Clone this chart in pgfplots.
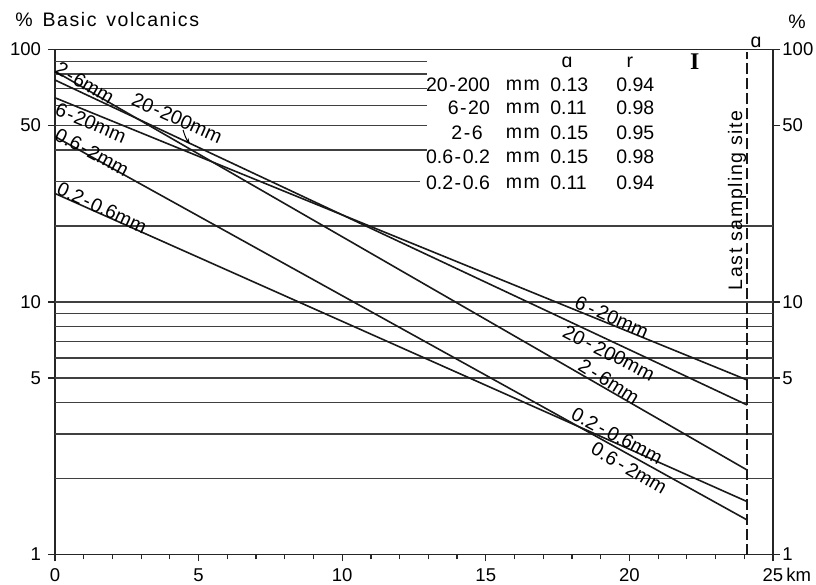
\documentclass[border=0pt]{standalone}
\usepackage{pgfplots}
\pgfplotsset{compat=1.18}
\usepackage{fontspec}
\setmainfont{Liberation Sans}
\newfontfamily\spaced[LetterSpace=8]{Liberation Sans}
\newfontfamily\romanI{Liberation Serif}
\usetikzlibrary{arrows.meta}
\tikzset{
  myGrid/.style={line width=0.55bp, black!75},
  myLine/.style={line width=0.8bp, black!90, mark=none},
}
\newcommand{\hy}{\kern0.08em-\kern0.08em}
\newcommand{\tfont}{\fontsize{9.3}{10}\selectfont}
\begin{document}
\begin{tikzpicture}[font=\fontsize{9.8}{11}\selectfont]
\begin{semilogyaxis}[width=359bp, height=252.5bp, scale only axis,
    xmin=0, xmax=25, ymin=1, ymax=100, clip=false,
    tick align=outside, yminorticks=false,
    tick label style={font=\tfont},
    ytick={1,5,10,50,100}, yticklabels={1,5,10,50,100},
    major tick length=3.5bp, minor tick length=2.5bp,
    every tick/.style={black!85, line width=0.6bp},
    axis line style={line width=0.7bp, black!85},
  xtick={0,5,10,15,20,25},
  xticklabels={0,5,10,15,20,{25\rlap{\,km}}},
  minor xtick={1,2,3,4,6,7,8,9,11,12,13,14,16,17,18,19,21,22,23,24},
  xtick pos=lower, ytick pos=both]
\coordinate (BBsw) at (rel axis cs:-0.0766,-0.0604);
\coordinate (BBne) at (rel axis cs:1.05989,1.09802);
% horizontal rulings
\pgfplotsinvokeforeach{2,3,4,5,6,7,8,9,10,20}{\draw[myGrid] (axis cs:0,#1) -- (axis cs:25,#1);}
\pgfplotsinvokeforeach{40,50,60,70,80,90}{\draw[myGrid] (axis cs:0,#1) -- (axis cs:12.95,#1);}
\draw[myGrid] (axis cs:0,30) -- (axis cs:12.7,30);
% last sampling site
\addplot[line width=0.7bp, black!90, dash pattern=on 5.5bp off 2bp] coordinates {(24.1,1) (24.1,98)};
% regression lines
\addplot[myLine] coordinates {(0,82.0) (24.1,2.16)};  % 2-6 mm
\addplot[myLine] coordinates {(0,75.7) (24.1,3.91)};  % 20-200 mm
\addplot[myLine] coordinates {(0,64.4) (24.1,4.91)};  % 6-20 mm
\addplot[myLine] coordinates {(0,45.2) (24.1,1.37)};  % 0.6-2 mm
\addplot[myLine] coordinates {(0,26.9) (24.1,1.62)};  % 0.2-0.6 mm
% line labels left
\node[rotate=-30] at (axis cs:1.04,73.7) {2\hy6mm};
\node[rotate=-24] at (axis cs:4.25,53.5) {20\hy200mm};
\draw[line width=0.5bp,-{Stealth[length=3bp,width=2.2bp]}] (axis cs:4.46,48) to[bend right=10] (axis cs:4.70,42.2);
\node[rotate=-23] at (axis cs:1.25,51.2) {6\hy20mm};
\node[rotate=-28] at (axis cs:1.29,39.3) {0.6\hy2mm};
\node[rotate=-25] at (axis cs:1.64,23.6) {0.2\hy0.6mm};
% line labels right
\node[rotate=-24] at (axis cs:19.39,8.72) {6\,-\,20mm};
\node[rotate=-27] at (axis cs:19.29,6.28) {20\,-\,200mm};
\node[rotate=-32] at (axis cs:19.29,4.86) {2\,-\,6mm};
\node[rotate=-28] at (axis cs:19.57,2.95) {0.2\,-\,0.6mm};
\node[rotate=-30] at (axis cs:19.99,2.20) {0.6\,-\,2mm};
% vertical label
\node[rotate=90] at (axis cs:23.75,25.3) {\spaced Last sampling site};
\node at (axis cs:24.41,107) {ɑ};
\node at (axis cs:22.28,89.2) {\romanI\bfseries\fontsize{12}{13}\selectfont I};
% table
\node at (axis cs:17.83,89.2) {ɑ};
\node at (axis cs:20.02,89.2) {r};
\node[anchor=east] at (axis cs:15.39,72.3) {20\hy200};
\node[anchor=east] at (axis cs:15.39,58.7) {6\hy20};
\node at (axis cs:14.35,46.7) {2\hy6};
\node[anchor=east] at (axis cs:15.39,37.5) {0.6\hy0.2};
\node[anchor=east] at (axis cs:15.39,29.6) {0.2\hy0.6};
\pgfplotsinvokeforeach{72.3,58.7,46.7,37.5,29.6}{\node[anchor=west] at (axis cs:15.45,#1) {\spaced mm};}
\node[anchor=west] at (axis cs:17.0,72.3) {0.13};
\node[anchor=west] at (axis cs:17.0,58.7) {0.11};
\node[anchor=west] at (axis cs:17.0,46.7) {0.15};
\node[anchor=west] at (axis cs:17.0,37.5) {0.15};
\node[anchor=west] at (axis cs:17.0,29.6) {0.11};
\node[anchor=west] at (axis cs:19.3,72.3) {0.94};
\node[anchor=west] at (axis cs:19.3,58.7) {0.98};
\node[anchor=west] at (axis cs:19.3,46.7) {0.95};
\node[anchor=west] at (axis cs:19.3,37.5) {0.98};
\node[anchor=west] at (axis cs:19.3,29.6) {0.94};
% right-hand scale labels
\pgfplotsinvokeforeach{1,5,10,50,100}{\node[anchor=west, inner sep=0pt, xshift=4.5bp, font=\tfont] at (axis cs:25,#1) {#1};}
% titles
\node[anchor=west, inner sep=0pt] at (rel axis cs:-0.0557,1.0584) {\spaced\%\hspace{0.5em}Basic\hspace{0.5em}volcanics};
\node at (rel axis cs:1.0334,1.0545) {\%};
\end{semilogyaxis}
\pgfresetboundingbox
\useasboundingbox (BBsw) rectangle (BBne);
\end{tikzpicture}
\end{document}
